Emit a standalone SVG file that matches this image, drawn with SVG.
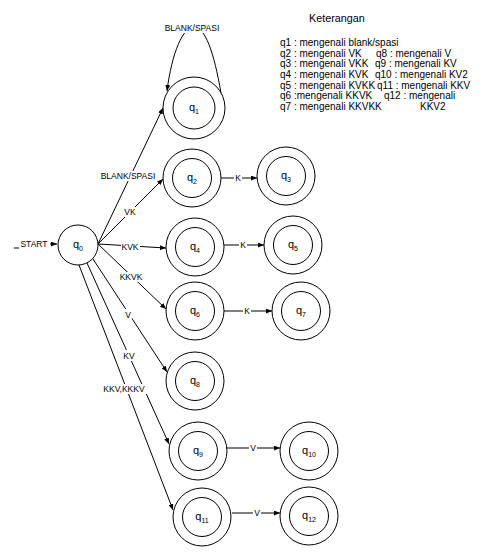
<svg xmlns="http://www.w3.org/2000/svg" width="490" height="560" viewBox="0 0 490 560">
<defs>
<marker id="ah" markerWidth="6" markerHeight="5" refX="6" refY="2.5" orient="auto" markerUnits="userSpaceOnUse">
<path d="M0,0 L6,2.5 L0,5 z" fill="#000"/>
</marker>
<style>
.c{fill:#fff;stroke:#000;stroke-width:1}
.e{fill:none;stroke:#000;stroke-width:1;marker-end:url(#ah)}
.l{fill:none;stroke:#000;stroke-width:1}
.t{font-family:"Liberation Sans",Arial,sans-serif;font-size:8.5px;text-anchor:middle;fill:#000}
.n{font-family:"Liberation Sans",Arial,sans-serif;font-size:11px;text-anchor:middle;fill:#000}
.s{font-size:7px}
.g{font-family:"Liberation Sans",Arial,sans-serif;font-size:10px;fill:#000}
.bg{fill:#fff}
</style>
</defs>
<rect width="490" height="560" fill="#fff"/>
<g id="connectors">
<path class="l" d="M14 248 H19"/>
<path class="e" d="M50 244 H57"/>
<path class="e" d="M221 93 C214 52 205 27 194 27 C183 27 172 52 167 91"/>
<path class="e" d="M98 244 L163 108"/>
<path class="e" d="M98 244 L163 179"/>
<path class="e" d="M98 244 L166 248"/>
<path class="e" d="M98 244 L166 309"/>
<path class="e" d="M93 259 L167 372"/>
<path class="e" d="M87 263 L169 444"/>
<path class="e" d="M79 265 L173 510"/>
<path class="e" d="M221 178 L257 178"/>
<path class="e" d="M224 245 L264 245"/>
<path class="e" d="M224 311 L272 311"/>
<path class="e" d="M226 448 L280 448"/>
<path class="e" d="M232 513 L280 513"/>
<rect class="bg" x="21" y="239" width="28" height="10"/>
<rect class="bg" x="165" y="18" width="54" height="15"/>
<rect class="bg" x="101" y="171" width="54" height="10"/>
<rect class="bg" x="122" y="207" width="16" height="10"/>
<rect class="bg" x="121" y="242" width="19" height="10"/>
<rect class="bg" x="118" y="272" width="26" height="10"/>
<rect class="bg" x="124" y="309" width="8" height="11"/>
<rect class="bg" x="123" y="350" width="12" height="11"/>
<rect class="bg" x="101" y="384" width="46" height="10"/>
<rect class="bg" x="234" y="173" width="8" height="10"/>
<rect class="bg" x="239" y="240" width="8" height="10"/>
<rect class="bg" x="243" y="306" width="8" height="10"/>
<rect class="bg" x="249" y="443" width="8" height="10"/>
<rect class="bg" x="253" y="508" width="8" height="10"/>
<text class="t" x="34" y="247">START</text>
<text class="t" x="192" y="31">BLANK/SPASI</text>
<text class="t" x="128" y="179">BLANK/SPASI</text>
<text class="t" x="130" y="215">VK</text>
<text class="t" x="130" y="250">KVK</text>
<text class="t" x="131" y="280">KKVK</text>
<text class="t" x="128" y="318">V</text>
<text class="t" x="129" y="359">KV</text>
<text class="t" x="124" y="392">KKV,KKKV</text>
<text class="t" x="238" y="181">K</text>
<text class="t" x="243" y="248">K</text>
<text class="t" x="247" y="314">K</text>
<text class="t" x="253" y="451">V</text>
<text class="t" x="257" y="516">V</text>
</g>
<g id="q0"><circle class="c" cx="78" cy="245" r="20"/><text class="n" x="78" y="248">q<tspan class="s" dy="3">0</tspan></text></g>
<g id="q1"><circle class="c" cx="194" cy="108" r="31"/><circle class="c" cx="194" cy="108" r="21"/><text class="n" x="194" y="111">q<tspan class="s" dy="3">1</tspan></text></g>
<g id="q2"><circle class="c" cx="192" cy="178" r="29"/><circle class="c" cx="192" cy="178" r="19.5"/><text class="n" x="192" y="181">q<tspan class="s" dy="3">2</tspan></text></g>
<g id="q3"><circle class="c" cx="286" cy="176" r="29"/><circle class="c" cx="286" cy="176" r="19.5"/><text class="n" x="286" y="179">q<tspan class="s" dy="3">3</tspan></text></g>
<g id="q4"><circle class="c" cx="195" cy="247" r="29"/><circle class="c" cx="195" cy="247" r="19.5"/><text class="n" x="195" y="250">q<tspan class="s" dy="3">4</tspan></text></g>
<g id="q5"><circle class="c" cx="293" cy="245" r="29"/><circle class="c" cx="293" cy="245" r="19.5"/><text class="n" x="293" y="248">q<tspan class="s" dy="3">5</tspan></text></g>
<g id="q6"><circle class="c" cx="195" cy="311" r="29"/><circle class="c" cx="195" cy="311" r="19.5"/><text class="n" x="195" y="314">q<tspan class="s" dy="3">6</tspan></text></g>
<g id="q7"><circle class="c" cx="301" cy="311" r="29"/><circle class="c" cx="301" cy="311" r="19.5"/><text class="n" x="301" y="314">q<tspan class="s" dy="3">7</tspan></text></g>
<g id="q8"><circle class="c" cx="195" cy="381" r="29"/><circle class="c" cx="195" cy="381" r="19.5"/><text class="n" x="195" y="384">q<tspan class="s" dy="3">8</tspan></text></g>
<g id="q9"><circle class="c" cx="198" cy="451" r="29"/><circle class="c" cx="198" cy="451" r="19.5"/><text class="n" x="198" y="454">q<tspan class="s" dy="3">9</tspan></text></g>
<g id="q10"><circle class="c" cx="309" cy="451" r="29"/><circle class="c" cx="309" cy="451" r="19.5"/><text class="n" x="309" y="454">q<tspan class="s" dy="3">10</tspan></text></g>
<g id="q11"><circle class="c" cx="202" cy="517" r="29"/><circle class="c" cx="202" cy="517" r="19.5"/><text class="n" x="202" y="520">q<tspan class="s" dy="3">11</tspan></text></g>
<g id="q12"><circle class="c" cx="309" cy="516" r="29"/><circle class="c" cx="309" cy="516" r="19.5"/><text class="n" x="309" y="519">q<tspan class="s" dy="3">12</tspan></text></g>
<g id="legend">
<text class="g" x="309" y="22" style="font-size:10.8px">Keterangan</text>
<text class="g" x="280" y="46">q1 : mengenali blank/spasi</text>
<text class="g" x="280" y="56.7">q2 : mengenali VK</text>
<text class="g" x="376" y="56.7">q8 : mengenali V</text>
<text class="g" x="280" y="67.3">q3 : mengenali VKK</text>
<text class="g" x="375" y="67.3">q9 : mengenali KV</text>
<text class="g" x="280" y="78">q4 : mengenali KVK</text>
<text class="g" x="375" y="78">q10 : mengenali KV2</text>
<text class="g" x="280" y="88.7">q5 : mengenali KVKK</text>
<text class="g" x="377" y="88.7">q11 : mengenali KKV</text>
<text class="g" x="280" y="99.3">q6 :mengenali KKVK</text>
<text class="g" x="384" y="99.3">q12 : mengenali</text>
<text class="g" x="280" y="110">q7 : mengenali KKVKK</text>
<text class="g" x="420" y="110">KKV2</text>
</g>
</svg>
